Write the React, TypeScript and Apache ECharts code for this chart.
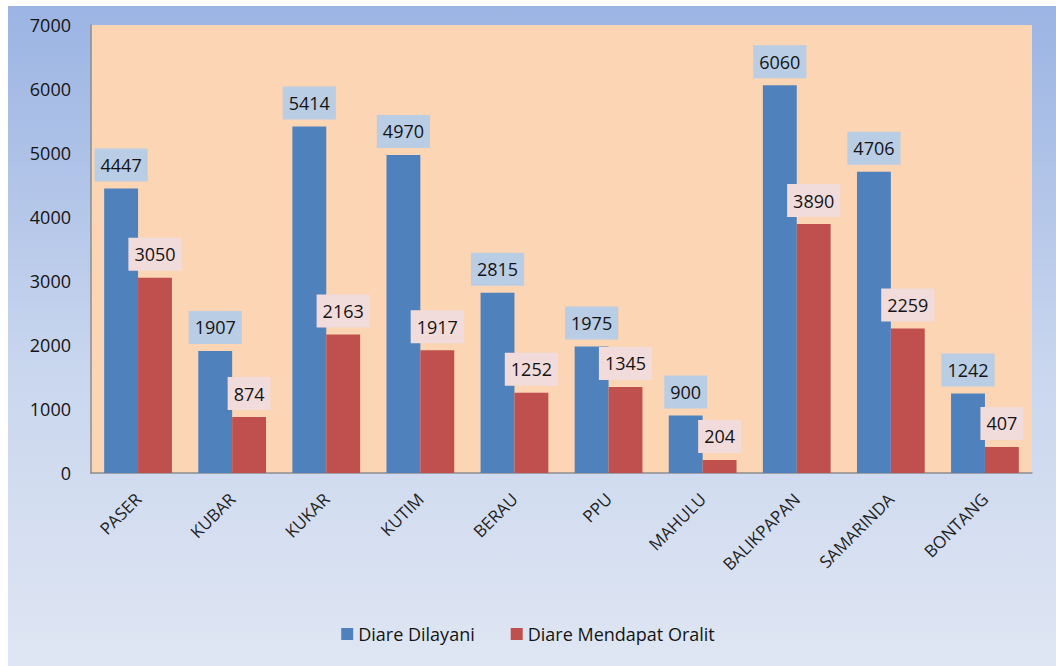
import React, { useEffect, useRef } from "react";
import * as echarts from "echarts";

const categories = ["PASER", "KUBAR", "KUKAR", "KUTIM", "BERAU", "PPU", "MAHULU", "BALIKPAPAN", "SAMARINDA", "BONTANG"];
const dilayani = [4447, 1907, 5414, 4970, 2815, 1975, 900, 6060, 4706, 1242];
const oralit = [3050, 874, 2163, 1917, 1252, 1345, 204, 3890, 2259, 407];
const seriesNames = ["Diare Dilayani", "Diare Mendapat Oralit"];

const FONT = "'Open Sans', 'Noto Sans', sans-serif";

export default function App() {
  const ref = useRef<HTMLDivElement>(null);
  useEffect(() => {
    if (!ref.current) return;
    const chart = echarts.init(ref.current, null, { renderer: "svg" });
    const label = (bg: string) => ({
      show: true,
      position: "top",
      distance: 7,
      fontSize: 18,
      lineHeight: 19,
      color: "#141414",
      backgroundColor: bg,
      padding: [7, 6, 7, 6],
      fontFamily: FONT,
    });
    chart.setOption({
      animation: false,
      backgroundColor: "#ffffff",
      textStyle: { fontFamily: FONT },
      graphic: [
        {
          type: "rect",
          z: -10,
          silent: true,
          shape: { x: 8, y: 6, width: 1048, height: 660 },
          style: {
            fill: new echarts.graphic.LinearGradient(0, 0, 0, 1, [
              { offset: 0, color: "#9bb4e3" },
              { offset: 0.55, color: "#c9d6ee" },
              { offset: 1, color: "#dfe6f3" },
            ]),
          },
        },
      ],
      grid: {
        left: 91,
        top: 25,
        right: 24,
        bottom: 193,
        show: true,
        backgroundColor: "#fbd5b4",
        borderWidth: 0,
      },
      legend: {
        bottom: 18,
        left: "center",
        itemWidth: 12,
        itemHeight: 12,
        itemGap: 36,
        icon: "rect",
        textStyle: { fontSize: 18, color: "#141414", fontFamily: FONT },
        data: seriesNames,
      },
      xAxis: {
        type: "category",
        data: categories,
        axisLine: { show: true, lineStyle: { color: "#8c8c8c", width: 1.5 } },
        axisTick: { show: false },
        axisLabel: {
          rotate: 45,
          margin: 23,
          fontSize: 17,
          color: "#222",
          fontFamily: FONT,
          interval: 0,
        },
      },
      yAxis: {
        type: "value",
        min: 0,
        max: 7000,
        interval: 1000,
        axisLine: { show: true, lineStyle: { color: "#8c8c8c", width: 1.5 } },
        axisTick: { show: false },
        splitLine: { show: false },
        axisLabel: {
          fontSize: 18,
          color: "#141414",
          margin: 20,
          fontFamily: FONT,
          formatter: (v: number) => String(v),
        },
      },
      series: [
        {
          name: seriesNames[0],
          type: "bar",
          data: dilayani,
          barGap: "0%",
          barCategoryGap: "28%",
          itemStyle: { color: "#4f81bd" },
          label: label("#b9cde5"),
        },
        {
          name: seriesNames[1],
          type: "bar",
          data: oralit,
          barGap: "0%",
          barCategoryGap: "28%",
          itemStyle: { color: "#c0504d" },
          label: label("#f2dcdb"),
        },
      ],
    });
    return () => chart.dispose();
  }, []);
  return (
    <div
      ref={ref}
      style={{ position: "absolute", left: 0, top: 0, width: 1056, height: 666 }}
    />
  );
}
